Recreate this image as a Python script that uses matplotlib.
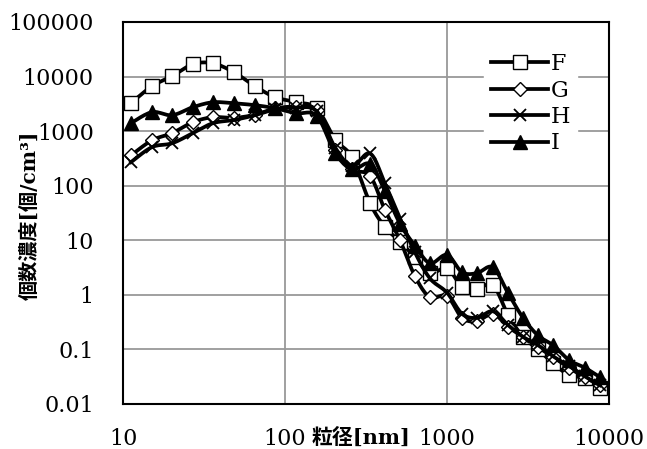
import numpy as np
import matplotlib.pyplot as plt

# particle size bins [nm]
size_nm = [11.2, 15.1, 20.1, 27.0, 35.9, 48.4, 65.3, 86.6, 117, 157,
           204, 259, 335, 414, 513, 634, 785, 1000, 1238, 1531,
           1923, 2380, 2946, 3646, 4512, 5660, 7110, 8800]

# number concentration [1/cm3]
F = [3260, 6670, 10200, 16900, 17500, 12000, 6670, 4200, 3400, 2600,
     700, 330, 48, 17.5, 9.5, 4.9, 2.5, 3.1, 1.4, 1.28,
     1.5, 0.43, 0.17, 0.1, 0.056, 0.034, 0.03, 0.02]
G = [360, 680, 920, 1460, 1800, 1750, 2000, 2600, 2800, 2400,
     450, 200, 150, 36, 10, 2.2, 0.9, 0.95, 0.38, 0.33,
     0.45, 0.26, 0.17, 0.11, 0.073, 0.046, 0.031, 0.022]
H = [270, 510, 600, 920, 1400, 1600, 1960, 2500, 2700, 2300,
     500, 230, 390, 110, 25, 6, 2, 1.1, 0.45, 0.38,
     0.5, 0.28, 0.17, 0.12, 0.075, 0.05, 0.032, 0.022]
I = [1400, 2230, 1960, 2750, 3380, 3240, 2990, 2630, 2130, 1900,
     400, 200, 250, 80, 20, 8, 3.8, 5.4, 2.6, 2.5,
     3.2, 1.08, 0.38, 0.18, 0.12, 0.064, 0.046, 0.031]

labels = ["F", "G", "H", "I"]
series = [F, G, H, I]


# smoothed line like the spreadsheet one (bezier through the points, log-log space)
def smooth(x, y, n=12):
    pts = np.column_stack([np.log10(x), np.log10(y)])
    out = [pts[0]]
    t = np.linspace(0, 1, n + 1)[1:, None]
    for i in range(len(pts) - 1):
        p0 = pts[max(i - 1, 0)]
        p1 = pts[i]
        p2 = pts[i + 1]
        p3 = pts[min(i + 2, len(pts) - 1)]
        c1 = p1 + (p2 - p0) / 6
        c2 = p2 - (p3 - p1) / 6
        seg = (1 - t) ** 3 * p1 + 3 * (1 - t) ** 2 * t * c1 + 3 * (1 - t) * t ** 2 * c2 + t ** 3 * p2
        out.extend(seg)
    out = np.array(out)
    return 10 ** out[:, 0], 10 ** out[:, 1], n


styles = {
    "F": dict(marker="s", markersize=10, markerfacecolor="white"),
    "G": dict(marker="D", markersize=7.5, markerfacecolor="white"),
    "H": dict(marker="x", markersize=9, markeredgewidth=1.3),
    "I": dict(marker="^", markersize=10, markerfacecolor="black"),
}

fig = plt.figure(figsize=(6.47, 4.49), dpi=100)
ax = fig.add_axes([123 / 647, 1 - 404 / 449, 486 / 647, 382 / 449])

for lab, vals in zip(labels, series):
    sx, sy, n = smooth(size_nm, vals)
    ax.plot(sx, sy, color="black", lw=2.7, markevery=list(range(0, len(sx), n)),
            markeredgecolor="black", label=lab, **styles[lab])

ax.set_xscale("log")
ax.set_yscale("log")
ax.set_xlim(10, 10000)
ax.set_ylim(0.01, 100000)
ax.set_xticks([10, 100, 1000, 10000])
ax.set_xticklabels(["10", "100", "1000", "10000"])
ax.set_yticks([0.01, 0.1, 1, 10, 100, 1000, 10000, 100000])
ax.set_yticklabels(["0.01", "0.1", "1", "10", "100", "1000", "10000", "100000"])
ax.minorticks_off()
ax.tick_params(axis="both", length=0, labelsize=16)
ax.tick_params(axis="x", pad=17)
ax.tick_params(axis="y", pad=21)
for lb in ax.get_xticklabels() + ax.get_yticklabels():
    lb.set_family("DejaVu Serif")
ax.grid(True, color="#999999", lw=1.3)
for sp in ax.spines.values():
    sp.set_linewidth(1.5)
    sp.set_zorder(5)

leg = ax.legend(loc="upper left", bbox_to_anchor=(0.72, 0.965), frameon=True,
                prop={"family": "DejaVu Serif", "size": 16}, handlelength=2.6,
                handletextpad=0.1, labelspacing=0.2, borderpad=0.3, numpoints=1)
leg.get_frame().set_edgecolor("white")
leg.get_frame().set_alpha(1)

fam = ["DejaVu Serif", "Noto Sans CJK JP"]
fig.text(30 / 647, 1 - 215 / 449, "個数濃度[個/cm³]", rotation=90, ha="center", va="center",
         fontsize=14.5, fontweight="bold", family=fam)
fig.text(361 / 647, 1 - 438 / 449, "粒径[nm]", ha="center", va="center",
         fontsize=15, fontweight="bold", family=fam)

fig.savefig("out.png", dpi=100)
